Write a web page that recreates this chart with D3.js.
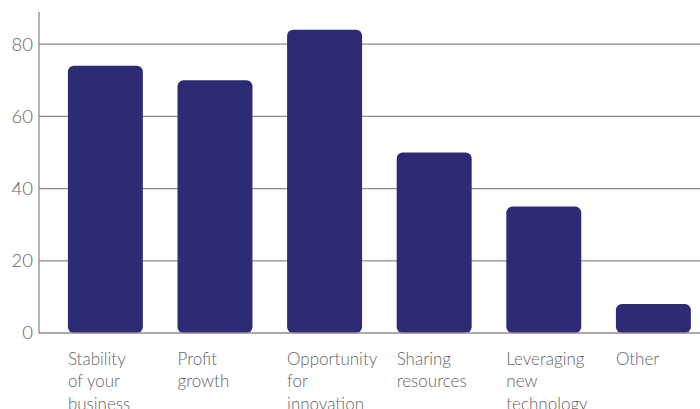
<!DOCTYPE html>
<html>
<head>
<meta charset="utf-8">
<script src="https://cdn.jsdelivr.net/npm/d3@7"></script>
<style>
  body { margin: 0; background: #fff; }
  text { font-family: "Lato", "Open Sans", sans-serif; fill: #646464; }
</style>
</head>
<body>
<svg id="chart" width="700" height="409"></svg>
<script>
// chart data
var categories = [
  ["Stability", "of your", "business"],
  ["Profit", "growth"],
  ["Opportunity", "for", "innovation"],
  ["Sharing", "resources"],
  ["Leveraging", "new", "technology"],
  ["Other"]
];
var values = [74, 70, 84, 50, 35, 8];
var yTicks = [0, 20, 40, 60, 80];

var svg = d3.select("#chart");
var plotL = 39, plotR = 700, plotT = 12, plotB = 333;

var xs = d3.scaleBand().domain(d3.range(values.length))
  .range([plotL, plotR]).paddingInner(0.316).paddingOuter(0.1735).align(0.76);
var ys = d3.scaleLinear().domain([0, 88.9]).range([plotB, plotT]);

// gridlines
svg.append("g").selectAll("line").data(yTicks.filter(function(d) { return d > 0; }))
  .enter().append("line")
  .attr("x1", plotL).attr("x2", plotR)
  .attr("y1", function(d) { return ys(d); })
  .attr("y2", function(d) { return ys(d); })
  .attr("stroke", "#8c8c8c").attr("stroke-width", 1.3);

// bars
svg.append("g").selectAll("rect").data(values).enter().append("rect")
  .attr("x", function(d, i) { return xs(i); })
  .attr("y", function(d) { return ys(d); })
  .attr("width", xs.bandwidth())
  .attr("height", function(d) { return ys(0) - ys(d); })
  .attr("rx", 6).attr("ry", 6)
  .attr("fill", "#2d2a76");

// axes lines
svg.append("line").attr("x1", plotL).attr("x2", plotL).attr("y1", plotT).attr("y2", plotB)
  .attr("stroke", "#8c8c8c").attr("stroke-width", 1.3);
svg.append("line").attr("x1", plotL).attr("x2", plotR).attr("y1", plotB).attr("y2", plotB)
  .attr("stroke", "#8c8c8c").attr("stroke-width", 1.3);

// y tick labels
svg.append("g").selectAll("text").data(yTicks).enter().append("text")
  .attr("x", plotL - 6)
  .attr("y", function(d) { return ys(d); })
  .attr("dy", "0.35em")
  .attr("text-anchor", "end")
  .attr("font-size", "18.5px")
  .attr("font-weight", 300)
  .text(function(d) { return d; });

// category labels
var lab = svg.append("g").selectAll("text").data(categories).enter().append("text")
  .attr("x", function(d, i) { return xs(i); })
  .attr("y", 365)
  .attr("font-size", "17px")
  .attr("font-weight", 300);
lab.selectAll("tspan").data(function(d) { return d; }).enter().append("tspan")
  .attr("x", function() { return d3.select(this.parentNode).attr("x"); })
  .attr("dy", function(d, i) { return i == 0 ? 0 : 22.3; })
  .text(function(d) { return d; });
</script>
</body>
</html>
